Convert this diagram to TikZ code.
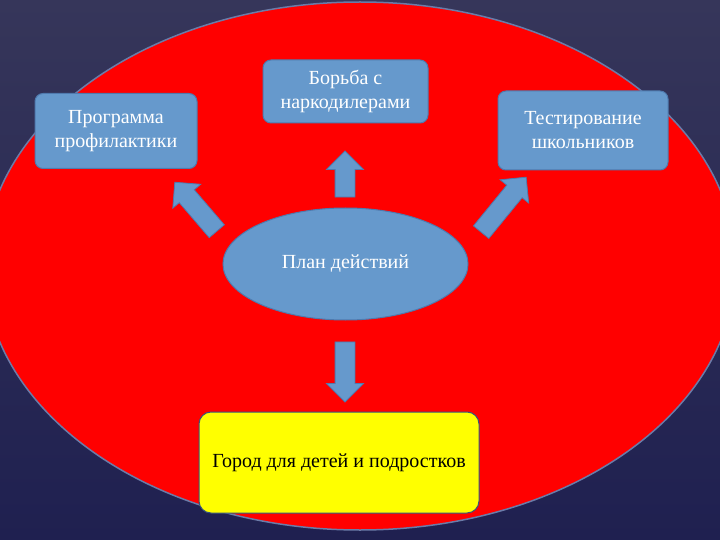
\documentclass[tikz,border=0pt]{standalone}
\usepackage{fontspec}
\setmainfont{Liberation Serif}
\usetikzlibrary{shapes.geometric,shapes.arrows}
\definecolor{bgtop}{HTML}{36365A}
\definecolor{bgbot}{HTML}{1F2050}
\definecolor{boxblue}{HTML}{6699CC}
\definecolor{boxedge}{HTML}{4F7AAE}
\definecolor{ringedge}{HTML}{6B7BA8}
\definecolor{ringred}{HTML}{FF0000}
\definecolor{cityyellow}{HTML}{FFFF00}
\begin{document}
\begin{tikzpicture}[x=1pt,y=-1pt,
  txt/.style={font=\fontsize{20}{24}\selectfont},
  bluebox/.style={txt, draw=boxedge, line width=1pt, fill=boxblue, rounded corners=8pt,
    text=white, align=center, inner sep=0pt},
  planshape/.style={txt, ellipse, draw=boxedge, line width=1pt, fill=boxblue,
    text=white, inner sep=0pt},
  citybox/.style={txt, draw=boxedge!70!black, line width=1pt, fill=cityyellow, rounded corners=12pt,
    text=black, align=center, inner sep=0pt},
  blockarrow/.style={single arrow, draw=boxedge, line width=0.8pt, fill=boxblue,
    inner sep=9.5pt, single arrow head extend=8.5pt, single arrow tip angle=90,
    sloped, allow upside down, midway, outer sep=0pt}
]
\useasboundingbox (0,0) rectangle (720,540);
\shade[top color=bgtop, bottom color=bgbot] (0,0) rectangle (720,540);
\begin{scope}
  \clip (0,0) rectangle (720,540);
  \draw[fill=ringred, draw=ringedge, line width=1.5pt] (360,266) ellipse [x radius=376, y radius=264];
\end{scope}

\node[bluebox, minimum width=162pt, minimum height=75pt] (prog) at (116,131) {Программа\\профилактики};
\node[bluebox, minimum width=165pt, minimum height=63pt] (fight) at (345.5,91.5) {Борьба с\\наркодилерами};
\node[bluebox, minimum width=170pt, minimum height=79pt] (test) at (583,130.5) {Тестирование\\школьников};
\node[planshape, minimum width=245pt, minimum height=112pt] (plan) at (345.5,264) {План действий};
\node[citybox, minimum width=280pt, minimum height=101pt] (city) at (339,462.5) {Город для детей и подростков};

\coordinate (upS) at (345,202);
\coordinate (upE) at (345,156);
\coordinate (dnS) at (345,337);
\coordinate (dnE) at (345,397);
\coordinate (lfS) at (220,235);
\coordinate (lfE) at (178,186);
\coordinate (rtS) at (478,236);
\coordinate (rtE) at (523,181);

\path (upS) -- (upE) node[blockarrow, minimum height=46pt] (aup) {};
\path (dnS) -- (dnE) node[blockarrow, minimum height=60pt] (adn) {};
\path (lfS) -- (lfE) node[blockarrow, minimum height=64.5pt] (alf) {};
\path (rtS) -- (rtE) node[blockarrow, minimum height=71pt] (art) {};
\end{tikzpicture}
\end{document}
